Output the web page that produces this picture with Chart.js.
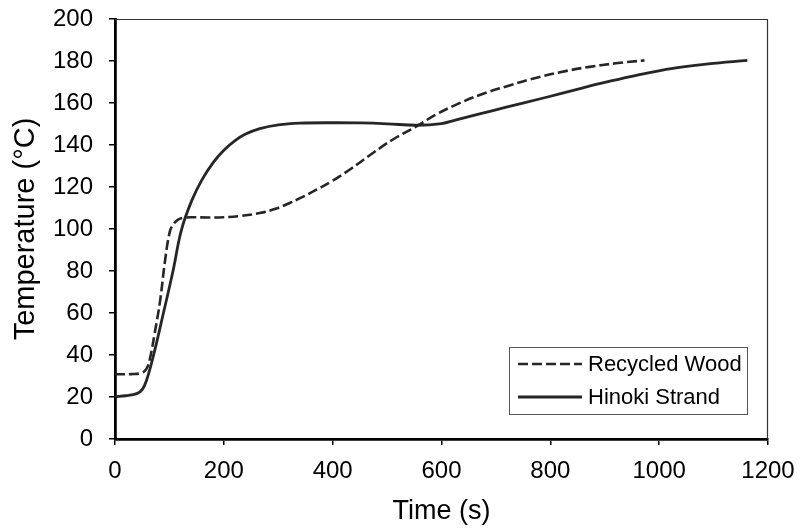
<!DOCTYPE html>
<html>
<head>
<meta charset="utf-8">
<script src="https://cdn.jsdelivr.net/npm/chart.js@4/dist/chart.umd.min.js"></script>
<style>
  html, body { margin: 0; padding: 0; background: #fff; }
</style>
</head>
<body>
<canvas id="tempChart" width="801" height="529"></canvas>
<script>
// time (s) / temperature (°C)
const recycledTime = [0, 30, 49, 58, 64, 73, 83, 92, 101, 108, 116, 125, 140, 170, 200, 230, 266, 295, 321, 345, 370, 400, 431, 474, 510, 554, 590, 627, 670, 719, 780, 830, 872, 920, 973];
const recycledTemp = [30.8, 30.9, 31.5, 33.5, 38, 50.5, 66, 85, 99, 102.5, 104.5, 105.3, 105.6, 105.5, 105.6, 106.2, 107.6, 109.6, 112.4, 115.3, 118.7, 123, 128.2, 136.2, 142.5, 148.9, 154.5, 159.2, 163.8, 167.9, 172.4, 175.3, 177.2, 178.9, 180.3];

const hinokiTime = [0, 20, 40, 50, 58, 70, 89, 107, 122, 141, 160, 180, 200, 220, 240, 266, 300, 340, 400, 450, 500, 554, 600, 627, 670, 719, 780, 817, 860, 902, 960, 1025, 1090, 1162];
const hinokiTemp = [20.2, 20.6, 21.6, 23.5, 28, 39, 60, 80.5, 99.5, 113.5, 123.5, 131.5, 137.5, 142, 145.2, 147.8, 149.6, 150.4, 150.6, 150.5, 150.1, 149.4, 150.2, 152, 154.8, 158, 161.9, 164.3, 167.2, 169.9, 173.3, 176.5, 178.6, 180.3];

const seriesLabels = ['Recycled Wood', 'Hinoki Strand'];

const toPoints = (xs, ys) => xs.map((x, i) => ({ x: x, y: ys[i] }));

const FONT = 'Arial, "Liberation Sans", sans-serif';
const INK = '#262626';

// legend box inside the plot, bottom right
const boxLegend = {
  id: 'boxLegend',
  afterDraw(chart) {
    const { ctx, chartArea } = chart;
    const w = 238, h = 67;
    const x0 = chartArea.right - 21 - w;
    const y0 = chartArea.bottom - 25 - h;
    ctx.save();
    ctx.strokeStyle = '#555';
    ctx.lineWidth = 1;
    ctx.strokeRect(x0 + 0.5, y0 + 0.5, w, h);
    ctx.font = '22px ' + FONT;
    ctx.fillStyle = '#000';
    ctx.textBaseline = 'middle';
    chart.data.datasets.forEach((ds, i) => {
      const y = y0 + 17 + i * 33;
      ctx.beginPath();
      ctx.setLineDash(ds.borderDash || []);
      ctx.strokeStyle = ds.borderColor;
      ctx.lineWidth = ds.borderWidth;
      ctx.moveTo(x0 + 9, y);
      ctx.lineTo(x0 + 73, y);
      ctx.stroke();
      ctx.setLineDash([]);
      ctx.fillText(ds.label, x0 + 79, y + 1);
    });
    ctx.restore();
  }
};

// thin top and right frame lines
const frame = {
  id: 'frame',
  afterDatasetsDraw(chart) {
    const { ctx, chartArea } = chart;
    ctx.save();
    ctx.strokeStyle = '#333';
    ctx.lineWidth = 1.2;
    ctx.beginPath();
    ctx.moveTo(chartArea.left, chartArea.top + 0.5);
    ctx.lineTo(chartArea.right - 0.5, chartArea.top + 0.5);
    ctx.lineTo(chartArea.right - 0.5, chartArea.bottom);
    ctx.stroke();
    ctx.restore();
  }
};

new Chart(document.getElementById('tempChart'), {
  type: 'line',
  data: {
    datasets: [
      {
        label: seriesLabels[0],
        data: toPoints(recycledTime, recycledTemp),
        borderColor: INK,
        borderWidth: 2.6,
        borderDash: [10, 4],
        pointRadius: 0,
        fill: false,
        tension: 0.4
      },
      {
        label: seriesLabels[1],
        data: toPoints(hinokiTime, hinokiTemp),
        borderColor: INK,
        borderWidth: 2.8,
        pointRadius: 0,
        fill: false,
        tension: 0.4
      }
    ]
  },
  options: {
    responsive: false,
    animation: false,
    devicePixelRatio: 1,
    layout: { padding: { top: 19, right: 33, left: 0, bottom: 0 } },
    plugins: {
      legend: { display: false },
      tooltip: { enabled: false }
    },
    scales: {
      x: {
        type: 'linear',
        min: 0,
        max: 1200,
        afterFit: (scale) => { scale.height = 90; scale.paddingLeft = 0; scale.paddingRight = 0; },
        ticks: { stepSize: 200, color: '#000', padding: 12, font: { size: 24, family: FONT }, callback: (v) => String(v) },
        grid: { drawOnChartArea: false, drawTicks: true, tickLength: 6, color: '#000', lineWidth: 1.5 },
        border: { color: '#000', width: 2.8 },
        title: { display: true, text: 'Time (s)', color: '#000', font: { size: 27, family: FONT }, padding: { top: 0, bottom: 1 } }
      },
      y: {
        min: 0,
        max: 200,
        afterFit: (scale) => { scale.width = 115; scale.paddingTop = 0; scale.paddingBottom = 0; },
        ticks: { stepSize: 20, color: '#000', padding: 16, font: { size: 24, family: FONT } },
        grid: { drawOnChartArea: false, drawTicks: true, tickLength: 6, color: '#000', lineWidth: 1.5 },
        border: { color: '#000', width: 2.8 },
        title: { display: true, text: 'Temperature (°C)', color: '#000', font: { size: 29, family: FONT }, padding: { top: 9, bottom: 0 } }
      }
    }
  },
  plugins: [frame, boxLegend]
});
</script>
</body>
</html>
